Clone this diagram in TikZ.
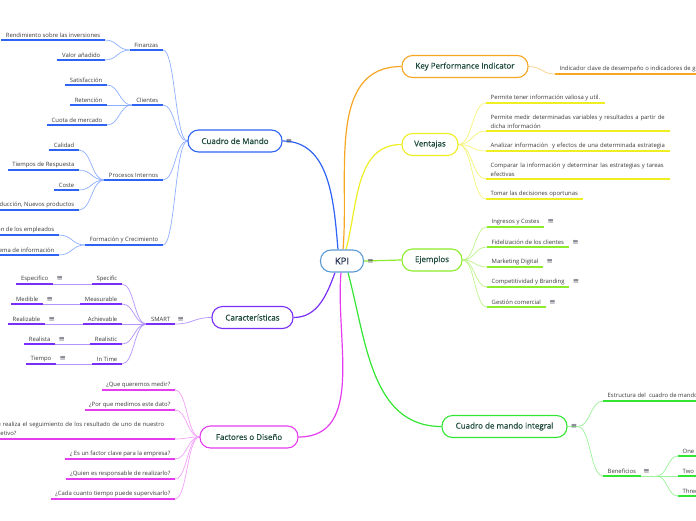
\documentclass[tikz,border=0pt]{standalone}
\usepackage{fontspec}
\setmainfont{Open Sans}
\newfontfamily\topicfont[FakeBold=0.5]{Open Sans}
\newfontfamily\notefont{DejaVu Sans}
\usetikzlibrary{positioning,calc}

\definecolor{kpiblue}{HTML}{5B9BD5}
\definecolor{kpitext}{HTML}{1B2B4B}
\definecolor{topictext}{HTML}{1F4A3D}
\definecolor{leaftext}{HTML}{3A3A3A}
\definecolor{notetext}{HTML}{4A4A5A}
\definecolor{cblue}{HTML}{2F63F5}
\definecolor{cblueL}{HTML}{8EAEFF}
\definecolor{corange}{HTML}{F6A623}
\definecolor{corangeL}{HTML}{FBD08A}
\definecolor{cyellow}{HTML}{EEEE22}
\definecolor{cyellowL}{HTML}{F4F47A}
\definecolor{clime}{HTML}{8CEB2A}
\definecolor{climeL}{HTML}{BDF38A}
\definecolor{cgreen}{HTML}{33E633}
\definecolor{cgreenL}{HTML}{99F299}
\definecolor{cpurple}{HTML}{7A2EFA}
\definecolor{cpurpleL}{HTML}{B393FC}
\definecolor{cmagenta}{HTML}{E63CF0}
\definecolor{cmagentaL}{HTML}{F3A0F8}

\pgfdeclarelayer{links}
\pgfsetlayers{links,main}

\tikzset{
  topic/.style={draw=#1, line width=1.1pt, fill=white, rounded corners=10.5pt,
    minimum height=22pt, inner xsep=6pt, text=topictext,
    font=\topicfont\fontsize{8}{9}\selectfont},
  leaf/.style={inner xsep=4.5pt, inner ysep=2.2pt, align=left, text=leaftext,
    font=\fontsize{5.9}{8.8}\selectfont,
    append after command={(\tikzlastnode.south west) edge[draw=#1, line width=1.5pt] (\tikzlastnode.south east)}},
  leafl/.style={leaf=#1, anchor=south east},
  leafr/.style={leaf=#1, anchor=south west},
  notes/.style={inner sep=0.5pt, text=notetext, font=\notefont\fontsize{7.5}{7.5}\selectfont},
  branch/.style={draw=#1, line width=1.2pt},
  link/.style={draw=#1, line width=0.7pt},
  sc/.style={to path={let \p1=(\tikztostart), \p2=(\tikztotarget) in
    .. controls (\x1/2+\x2/2,\y1) and (\x1/2+\x2/2,\y2) .. (\tikztotarget)}},
}

\begin{document}
\begin{tikzpicture}[x=1pt,y=1pt]
\useasboundingbox (0,0) rectangle (696,-520);
\clip (0,0) rectangle (696,-520);

% centre and main topics
\node[topic=kpiblue, minimum width=43pt, text=kpitext, font=\topicfont\fontsize{9.5}{10}\selectfont] (kpi) at (342,-261) {KPI};
\node[notes, right=2.5pt of kpi] (kpi-n) {≡};
\node[topic=cblue, minimum width=94pt] (cdm) at (235,-141) {Cuadro de Mando};
\node[notes, right=2.5pt of cdm] (cdm-n) {≡};
\node[topic=corange, minimum width=126pt] (kpind) at (465,-66.5) {Key Performance Indicator};
\node[topic=cyellow, minimum width=56pt] (vent) at (430,-144.5) {Ventajas};
\node[topic=clime, minimum width=60pt] (ejem) at (432,-260) {Ejemplos};
\node[topic=cgreen, minimum width=125pt] (cmi) at (504.5,-426.5) {Cuadro de mando integral};
\node[notes, right=2.5pt of cmi] (cmi-n) {≡};
\node[topic=cpurple, minimum width=81pt] (carac) at (252.5,-317.5) {Características};
\node[topic=cmagenta, minimum width=98pt] (fact) at (249,-437) {Factores o Diseño};

% Cuadro de Mando
\node[leafl=cblue] (fin) at (163,-50) {Finanzas};
\node[leafl=cblue] (rend) at (105,-40) {Rendimiento sobre las inversiones};
\node[leafl=cblue] (valor) at (105,-60) {Valor añadido};
\node[leafl=cblue] (cli) at (163,-105) {Clientes};
\node[leafl=cblue] (satis) at (107,-85) {Satisfacción};
\node[leafl=cblue] (reten) at (107,-105) {Retención};
\node[leafl=cblue] (cuota) at (107,-125) {Cuota de mercado};
\node[leafl=cblue] (proc) at (163,-180) {Procesos Internos};
\node[leafl=cblue] (cal) at (79,-150) {Calidad};
\node[leafl=cblue] (tresp) at (79,-170) {Tiempos de Respuesta};
\node[leafl=cblue] (coste) at (79,-190) {Coste};
\node[leafl=cblue] (innov) at (79,-210) {Producción, Nuevos productos};
\node[leafl=cblue] (form) at (163,-245) {Formación y Crecimiento};
\node[leafl=cblue] (emple) at (59,-235) {Formación de los empleados};
\node[leafl=cblue] (sist) at (59,-255) {Sistema  de información};

% Caracteristicas
\node[leafl=cpurple] (smart) at (175,-324) {SMART};
\node[notes, right=2pt of smart] (smart-n) {≡};
\node[leafl=cpurple] (spec) at (122,-284) {Specific};
\node[leafl=cpurple] (meas) at (122,-304) {Measurable};
\node[leafl=cpurple] (ach) at (122,-324) {Achievable};
\node[leafl=cpurple] (rlst) at (122,-344) {Realistic};
\node[leafl=cpurple] (intime) at (122,-364) {In Time};
\node[leafl=cpurple] (esp) at (53,-284) {Especifico};
\node[leafl=cpurple] (med) at (43,-304) {Medible};
\node[leafl=cpurple] (realiz) at (45,-324) {Realizable};
\node[leafl=cpurple] (realista) at (55,-344) {Realista};
\node[leafl=cpurple] (tiempo) at (56,-364) {Tiempo};
\foreach \k in {esp,med,realiz,realista,tiempo}
  \node[notes, right=3pt of \k] (\k-n) {≡};

% Factores o Diseno
\node[leafl=cmagenta] (q1) at (175,-390) {¿Que queremos medir?};
\node[leafl=cmagenta] (q2) at (175,-410) {¿Por que medimos este dato?};
\node[leafl=cmagenta, text width=178.5pt] (q3) at (175,-439) {¿Se realiza el seguimiento de los resultado de uno de nuestro\\objetivo?};
\node[leafl=cmagenta] (q4) at (175,-459) {¿ Es un factor clave para la empresa?};
\node[leafl=cmagenta] (q5) at (175,-479) {¿Quien es responsable de realizarlo?};
\node[leafl=cmagenta] (q6) at (175,-499) {¿Cada cuanto tiempo puede supervisarlo?};

% Key Performance Indicator
\node[leafr=corange] (gest) at (555,-74) {Indicador clave de desempeño o indicadores de gestión};

% Ventajas
\node[leafr=cyellow] (v1) at (486,-103) {Permite tener información valiosa y util.};
\node[leafr=cyellow, text width=175pt] (v2) at (486,-131) {Permite medir determinadas variables y resultados a partir de\\dicha información};
\node[leafr=cyellow, text width=175pt] (v3) at (486,-151) {Analizar información \ y efectos de una determinada estrategia};
\node[leafr=cyellow, text width=175pt] (v4) at (486,-179) {Comparar la información y determinar las estrategias y tareas\\efectivas};
\node[leafr=cyellow] (v5) at (486,-199) {Tomar las decisiones oportunas};

% Ejemplos
\node[leafr=clime] (e1) at (487,-227) {Ingresos y Costes};
\node[leafr=clime] (e2) at (487,-247) {Fidelización de los clientes};
\node[leafr=clime] (e3) at (487,-267) {Marketing Digital};
\node[leafr=clime] (e4) at (487,-287) {Competitividad y Branding};
\node[leafr=clime] (e5) at (487,-307) {Gestión comercial};
\foreach \k in {e1,e2,e3,e4,e5}
  \node[notes, right=3pt of \k] (\k-n) {≡};

% Cuadro de mando integral
\node[leafr=cgreen] (estr) at (603,-401) {Estructura del \ cuadro de mando integral};
\node[leafr=cgreen] (benef) at (603,-476) {Beneficios};
\node[notes, right=2pt of benef] (benef-n) {≡};
\node[leafr=cgreen] (one) at (678,-456) {One};
\node[leafr=cgreen] (two) at (678,-476) {Two};
\node[leafr=cgreen] (three) at (678,-496) {Three};

\begin{pgfonlayer}{links}
% branches from the centre
\draw[branch=cblue] (cdm.east) to[out=0,in=95] ([xshift=-4pt]kpi.north);
\draw[branch=corange] ([xshift=1pt]kpi.north) to[out=85,in=180] (kpind.west);
\draw[branch=cyellow] ([xshift=4pt]kpi.north) to[out=75,in=180] (vent.west);
\draw[branch=clime] (kpi.east) -- (ejem.west);
\draw[branch=cgreen] ([xshift=6pt]kpi.south) to[out=-75,in=180] (cmi.west);
\draw[branch=cmagenta] ([xshift=-1pt]kpi.south) to[out=-95,in=0] (fact.east);
\draw[branch=cpurple] ([xshift=-7pt]kpi.south) to[out=-110,in=0] (carac.east);

% left side
\foreach \k in {fin,cli,proc,form}
  \draw[link=cblueL] (cdm.west) to[sc] (\k.south east);
\foreach \k in {rend,valor}
  \draw[link=cblueL] (fin.south west) to[sc] (\k.south east);
\foreach \k in {satis,reten,cuota}
  \draw[link=cblueL] (cli.south west) to[sc] (\k.south east);
\foreach \k in {cal,tresp,coste,innov}
  \draw[link=cblueL] (proc.south west) to[sc] (\k.south east);
\foreach \k in {emple,sist}
  \draw[link=cblueL] (form.south west) to[sc] (\k.south east);

\draw[link=cpurpleL] (carac.west) to[sc] (smart.south east);
\foreach \k in {spec,meas,ach,rlst,intime}
  \draw[link=cpurpleL] (smart.south west) to[sc] (\k.south east);
\draw[link=cpurpleL] (esp.south east) -- (spec.south west);
\draw[link=cpurpleL] (med.south east) -- (meas.south west);
\draw[link=cpurpleL] (realiz.south east) -- (ach.south west);
\draw[link=cpurpleL] (realista.south east) -- (rlst.south west);
\draw[link=cpurpleL] (tiempo.south east) -- (intime.south west);

\foreach \k in {q1,q2,q3,q4,q5,q6}
  \draw[link=cmagentaL] (fact.west) to[sc] (\k.south east);

% right side
\draw[link=corangeL] (kpind.east) to[sc] (gest.south west);
\foreach \k in {v1,v2,v3,v4,v5}
  \draw[link=cyellowL] (vent.east) to[sc] (\k.south west);
\foreach \k in {e1,e2,e3,e4,e5}
  \draw[link=climeL] (ejem.east) to[sc] (\k.south west);

\draw[link=cgreenL] (cmi.east) -- (cmi-n.east);
\foreach \k in {estr,benef}
  \draw[link=cgreenL] (cmi-n.east) to[sc] (\k.south west);
\coordinate (benef-x) at ([xshift=16pt]benef.south east);
\draw[link=cgreenL] (benef.south east) -- (benef-x);
\foreach \k in {one,two,three}
  \draw[link=cgreenL] (benef-x) to[sc] (\k.south west);
\end{pgfonlayer}
\end{tikzpicture}
\end{document}
